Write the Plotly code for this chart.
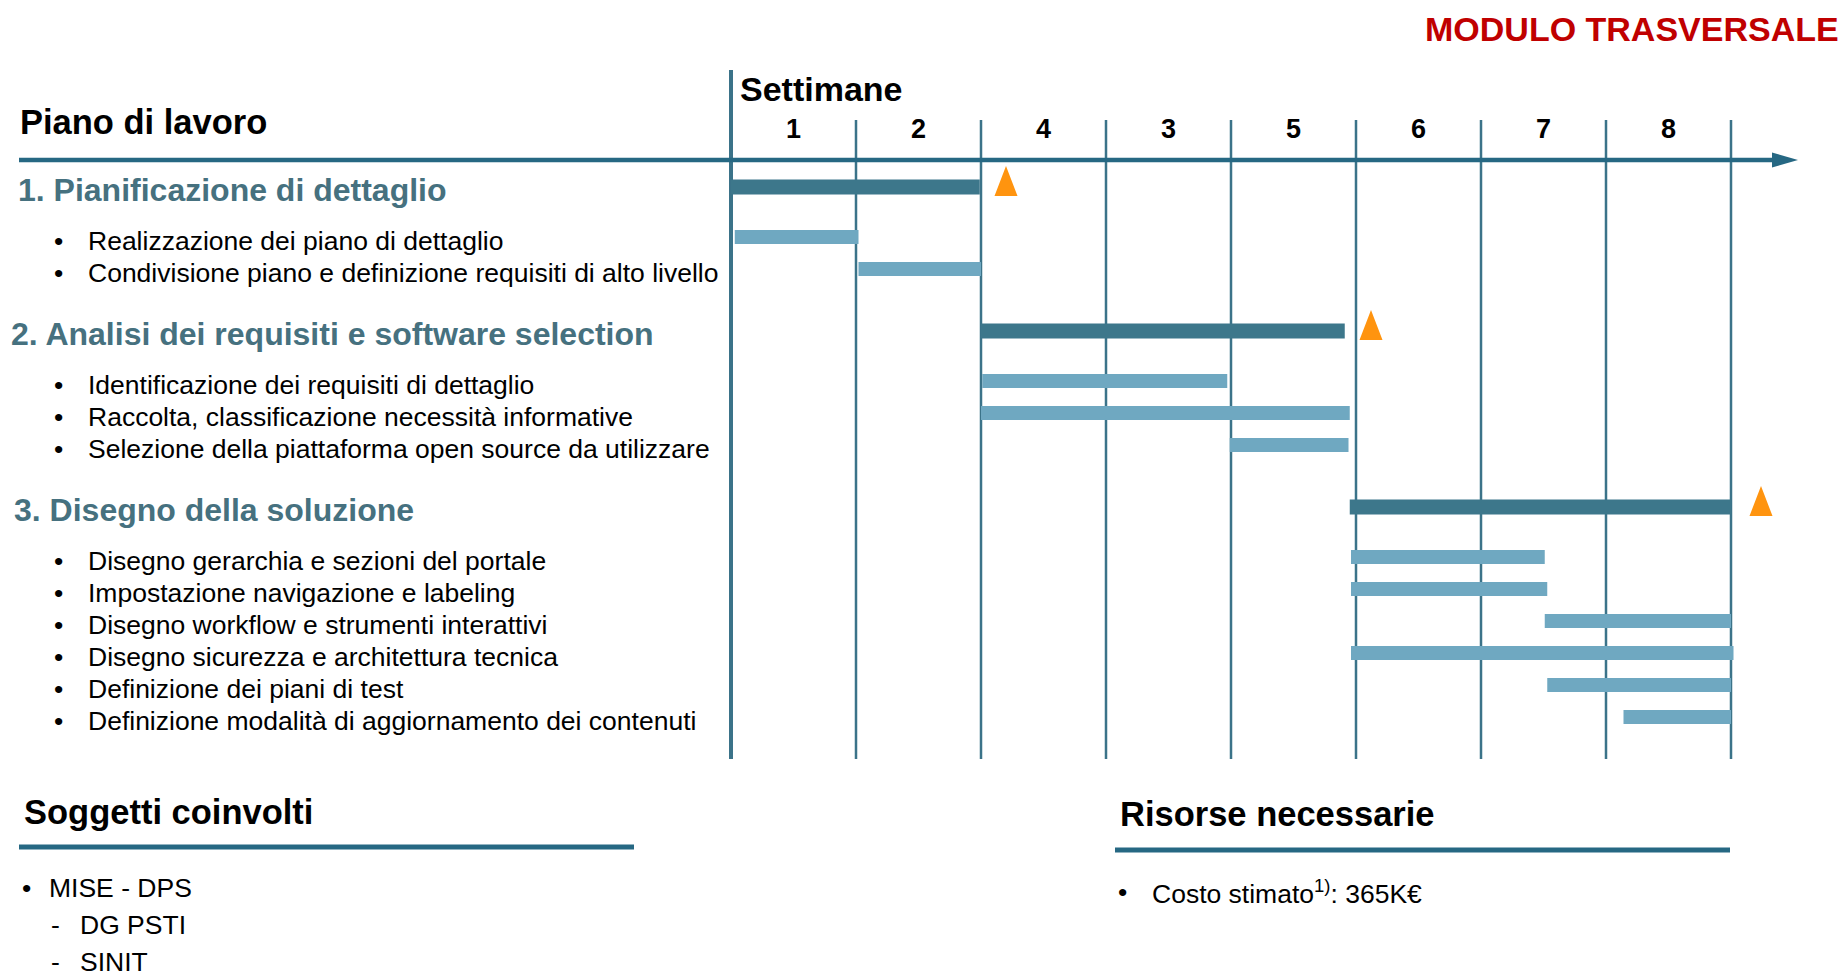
import plotly.graph_objects as go

W, H = 1845, 976

# --- data ---------------------------------------------------------------
week_labels = ["1", "2", "4", "3", "5", "6", "7", "8"]

phase_names = [
    "1. Pianificazione di dettaglio",
    "2. Analisi dei requisiti e software selection",
    "3. Disegno della soluzione",
]
phase_start = [0.0, 2.0, 4.95]
phase_end = [1.99, 4.91, 8.0]
milestone_week = [2.2, 5.12, 8.24]

task_phase = [0, 0, 1, 1, 1, 2, 2, 2, 2, 2, 2]
task_names = [
    "Realizzazione dei piano di dettaglio",
    "Condivisione piano e definizione requisiti di alto livello",
    "Identificazione dei requisiti di dettaglio",
    "Raccolta, classificazione necessità informative",
    "Selezione della piattaforma open source da utilizzare",
    "Disegno gerarchia e sezioni del portale",
    "Impostazione navigazione e labeling",
    "Disegno workflow e strumenti interattivi",
    "Disegno sicurezza e architettura tecnica",
    "Definizione dei piani di test",
    "Definizione modalità di aggiornamento dei contenuti",
]
task_start = [0.03, 1.02, 2.01, 2.0, 3.99, 4.96, 4.96, 6.51, 4.96, 6.53, 7.14]
task_end = [1.02, 2.0, 3.97, 4.95, 4.94, 6.51, 6.53, 8.0, 8.02, 8.0, 8.0]

soggetti_marks = ["•", "-", "-"]
soggetti = ["MISE - DPS", "DG PSTI", "SINIT"]
risorse = ["Costo stimato<sup>1)</sup>: 365K€"]

# --- style --------------------------------------------------------------
FONT = "Liberation Sans, Arial, sans-serif"
AXIS_BLUE = "#266883"
GRID_BLUE = "#3b7389"
DARK_BAR = "#3d778b"
LIGHT_BAR = "#6fa8c1"
HEADER_COL = "#46717f"
ORANGE = "#ff940f"
RED = "#c00000"

X0_PX, PX_PER_WEEK = 731, 125.0
x_range = [-X0_PX / PX_PER_WEEK, (W - X0_PX) / PX_PER_WEEK]


def wk(px):
    # screen x pixel -> week units
    return (px - X0_PX) / PX_PER_WEEK


# row layout (y axis is in screen pixels, top = 0)
phase_y, task_y = [], []
y = 190
for p in range(len(phase_names)):
    phase_y.append(y)
    y += 51
    for tp in task_phase:
        if tp == p:
            task_y.append(y)
            y += 32
    y += 29

fig = go.Figure()

# time axis line + arrow head
AXIS_Y = 160
fig.add_scatter(x=[wk(19), wk(1774)], y=[AXIS_Y, AXIS_Y], mode="lines",
                line=dict(color=AXIS_BLUE, width=4.5), hoverinfo="skip")
fig.add_scatter(x=[wk(1772), wk(1798), wk(1772), wk(1772)],
                y=[AXIS_Y - 7.5, AXIS_Y, AXIS_Y + 7.5, AXIS_Y - 7.5],
                mode="lines", fill="toself", fillcolor=AXIS_BLUE,
                line=dict(width=0, color=AXIS_BLUE), hoverinfo="skip")

# sub-task bars
fig.add_bar(
    orientation="h",
    base=task_start,
    x=[e - s for s, e in zip(task_start, task_end)],
    y=[v - 4 for v in task_y],
    width=14,
    marker=dict(color=LIGHT_BAR, line_width=0),
    hoverinfo="skip",
)
# phase bars
phase_bar_y = [v - 3 for v in phase_y]
fig.add_bar(
    orientation="h",
    base=phase_start,
    x=[e - s for s, e in zip(phase_start, phase_end)],
    y=phase_bar_y,
    width=15,
    marker=dict(color=DARK_BAR, line_width=0),
    hoverinfo="skip",
)

# milestone triangles
tx, ty = [], []
half_w, tri_h = 11.5 / PX_PER_WEEK, 30
for m, by in zip(milestone_week, phase_bar_y):
    bottom = by + 9
    tx += [m - half_w, m + half_w, m, m - half_w, None]
    ty += [bottom, bottom, bottom - tri_h, bottom, None]
fig.add_scatter(x=tx, y=ty, mode="lines", fill="toself", fillcolor=ORANGE,
                line=dict(width=0, color=ORANGE), hoverinfo="skip")

fig.update_layout(barmode="overlay")

# week grid
shapes = []
for k in range(1, len(week_labels) + 1):
    shapes.append(dict(type="line", xref="x", yref="y", x0=k, x1=k, y0=120, y1=759,
                       line=dict(color=GRID_BLUE, width=2.5), layer="below"))
shapes.append(dict(type="line", xref="x", yref="y", x0=0, x1=0, y0=70, y1=759,
                   line=dict(color=GRID_BLUE, width=4), layer="below"))
# section underlines
shapes.append(dict(type="line", xref="paper", yref="y", x0=19 / W, x1=634 / W, y0=847, y1=847,
                   line=dict(color=AXIS_BLUE, width=5)))
shapes.append(dict(type="line", xref="paper", yref="y", x0=1115 / W, x1=1730 / W, y0=850, y1=850,
                   line=dict(color=AXIS_BLUE, width=5)))

ann = []


def text(x_px, y_px, s, size, color="black", bold=False, anchor="left"):
    if bold:
        s = "<b>" + s + "</b>"
    ann.append(dict(x=x_px / W, y=y_px, xref="paper", yref="y", text=s, showarrow=False,
                    xanchor=anchor, yanchor="middle",
                    font=dict(family=FONT, size=size, color=color)))


text(1841, 29, "MODULO TRASVERSALE", 34, RED, True, "right")
text(18, 122, "Piano di lavoro", 34.5, bold=True)
text(738, 89, "Settimane", 34, bold=True)

for i, lab in enumerate(week_labels):
    ann.append(dict(x=i + 0.5, y=129, xref="x", yref="y", text="<b>" + lab + "</b>",
                    showarrow=False, xanchor="center", yanchor="middle",
                    font=dict(family=FONT, size=27, color="black")))

header_x = [16, 9, 12]
for name, hy, hx in zip(phase_names, phase_y, header_x):
    text(hx, hy, name, 32, HEADER_COL, True)

for name, ry in zip(task_names, task_y):
    text(52, ry, "•", 26.5)
    text(86, ry, name, 26.5)

text(22, 812, "Soggetti coinvolti", 34.5, bold=True)
for i, (mk, s) in enumerate(zip(soggetti_marks, soggetti)):
    ry = 888 + i * 37
    if mk == "•":
        text(20, ry, mk, 26.5)
        text(47, ry, s, 26.5)
    else:
        text(49, ry, mk, 26.5)
        text(78, ry, s, 26.5)

text(1118, 814, "Risorse necessarie", 34.5, bold=True)
for i, s in enumerate(risorse):
    text(1116, 892 + i * 38, "•", 26.5)
    text(1150, 892 + i * 38, s, 26.5)

fig.update_layout(
    width=W, height=H,
    margin=dict(l=0, r=0, t=0, b=0),
    paper_bgcolor="white", plot_bgcolor="white",
    showlegend=False,
    xaxis=dict(range=x_range, visible=False, fixedrange=True),
    yaxis=dict(range=[H, 0], visible=False, fixedrange=True),
    shapes=shapes,
    annotations=ann,
)

fig.write_html("out.html", config={"displayModeBar": False},
               post_script="document.body.style.margin='0';")
